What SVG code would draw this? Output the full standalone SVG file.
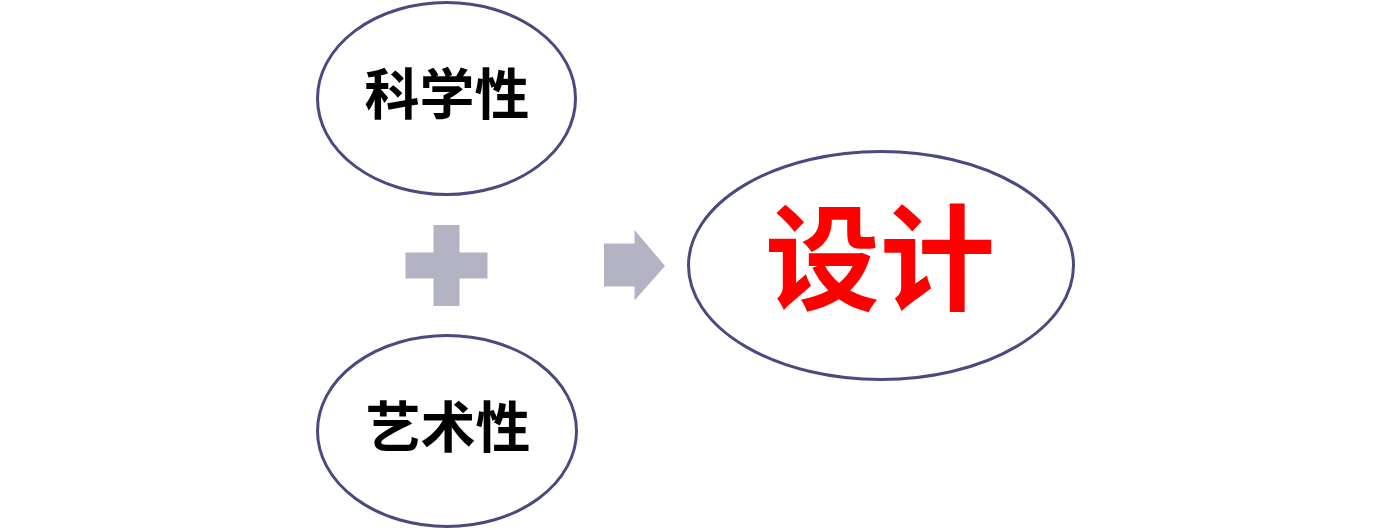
<svg xmlns="http://www.w3.org/2000/svg" width="1390" height="530" viewBox="0 0 1390 530">
  <style>
    .node { fill: #ffffff; stroke: #4a4a80; stroke-width: 3; }
    .label { font-family: "Noto Sans CJK SC", "Noto Sans CJK JP", sans-serif; text-anchor: middle; dominant-baseline: central; }
    .small { font-size: 55px; font-weight: bold; fill: #000000; }
    .big { font-size: 115px; font-weight: bold; fill: #ff0000; }
    .sym { fill: #b3b3c4; }
  </style>
  <rect width="1390" height="530" fill="#ffffff"/>
  <g id="node-science">
    <ellipse class="node" cx="446.5" cy="98.5" rx="129" ry="96"/>
    <text class="label small" x="447" y="90">科学性</text>
  </g>
  <g id="node-art">
    <ellipse class="node" cx="447" cy="431" rx="129.5" ry="95.5"/>
    <text class="label small" x="448" y="423">艺术性</text>
  </g>
  <g id="node-design">
    <ellipse class="node" cx="881" cy="265.5" rx="192.5" ry="114"/>
    <text class="label big" x="880" y="251">设计</text>
  </g>
  <g id="connectors">
    <path class="sym" d="M433.5,225 H459.5 V252.5 H487.5 V278.5 H459.5 V306 H433.5 V278.5 H405.5 V252.5 H433.5 Z"/>
    <path class="sym" d="M604,243.5 H634.5 V230 L665,266 L634.5,300.5 V286.5 H604 Z"/>
  </g>
</svg>
